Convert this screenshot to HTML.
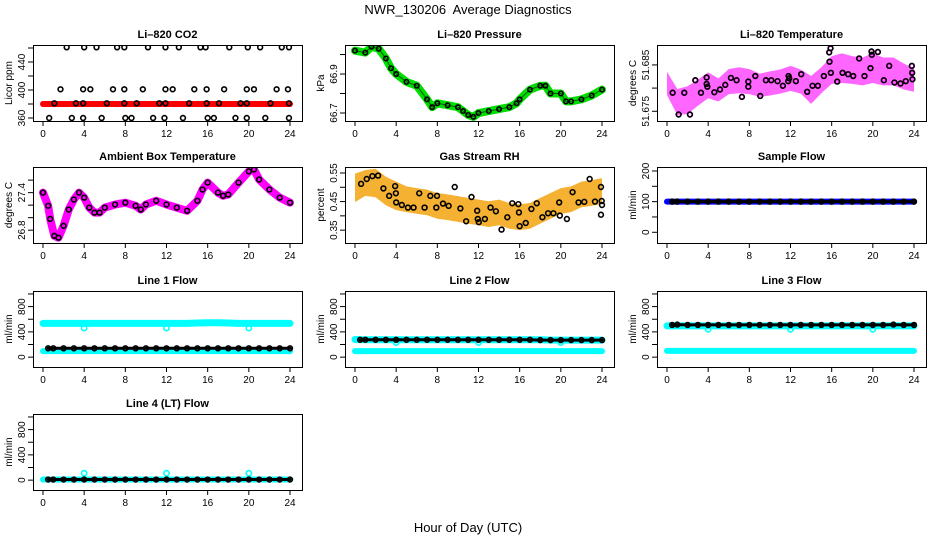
<!DOCTYPE html>
<html><head><meta charset="utf-8"><style>
html,body{margin:0;padding:0;background:#fff;}
svg{display:block;font-family:"Liberation Sans",Arial,sans-serif;}
</style></head><body>
<svg id="chart" width="936" height="540" viewBox="0 0 936 540" xmlns="http://www.w3.org/2000/svg">
<text x="468" y="14" text-anchor="middle" font-size="13">NWR_130206&#160; Average Diagnostics</text>
<text x="468" y="532" text-anchor="middle" font-size="13">Hour of Day (UTC)</text>
</svg>
<script>
const hours25=[0,1,2,3,4,5,6,7,8,9,10,11,12,13,14,15,16,17,18,19,20,21,22,23,24];
const xTicks=[0,4,8,12,16,20,24];
// CO2
const co2Red=[380,380,380,380,380,380,380,380,380,380,380,380,380,380,380,380,380,380,380,380,380,380,380,380,380];
const co2PtH=[2.3,4.0,5.2,7.2,7.9,10.2,11.9,13.2,15.3,15.8,18.1,19.9,21.1,23.2,23.9,1.7,3.9,4.6,6.8,7.9,9.7,11.9,12.6,14.7,15.9,17.6,19.8,20.5,22.7,23.8,1.1,3.2,3.9,6.2,7.9,9.1,11.3,11.9,14.2,15.9,17.1,19.2,19.8,22.1,23.9,0.6,2.8,3.9,5.7,8.0,8.6,10.7,11.8,13.6,16.0,16.6,18.7,19.8,21.6,23.9];
const co2PtV=[461,461,461,461,461,461,461,461,461,461,461,461,461,461,461,401,401,401,401,401,401,401,401,401,401,401,401,401,401,401,381,381,381,381,381,381,381,381,381,381,381,381,381,381,381,360,360,360,360,360,360,360,360,360,360,360,360,360,360,360];
// Pressure
const presH=[0,1,1.6,2.3,3,3.5,4,5,6,7,7.5,8,9,10,10.5,11,11.5,12,13,14,15,15.7,16,17,18,18.5,19,20,20.5,21,22,23,24];
const presV=[67.02,67.01,67.04,67.03,66.98,66.93,66.90,66.86,66.84,66.77,66.73,66.75,66.74,66.73,66.71,66.69,66.68,66.70,66.71,66.72,66.73,66.75,66.77,66.82,66.84,66.84,66.80,66.80,66.76,66.76,66.77,66.79,66.82];
// Li-820 temperature
const ltCenter=[51.681,51.677,51.6774,51.679,51.6806,51.6796,51.6814,51.6817,51.6814,51.6806,51.681,51.6814,51.6821,51.6814,51.6796,51.6817,51.6839,51.6843,51.6839,51.6836,51.6843,51.6836,51.6836,51.6825,51.6817];
const ltSpread=[0.0025,0.0028,0.003,0.0028,0.0028,0.0025,0.0027,0.0028,0.0027,0.0025,0.0026,0.0026,0.0027,0.0026,0.003,0.0028,0.003,0.0032,0.003,0.003,0.0032,0.003,0.003,0.0028,0.0025];
const ltPtH=[0.55,1.13,1.68,2.23,2.75,3.3,3.85,3.85,3.92,4.6,5.15,5.66,6.21,6.76,7.28,7.9,7.9,8.58,9.06,9.61,10.13,10.74,11.26,11.78,11.81,11.88,12.52,13.04,13.62,14.14,14.66,15.24,15.76,15.79,15.89,15.92,16.54,17.06,17.6,18.09,18.67,19.19,19.77,19.87,19.9,20.49,21.07,21.59,22.1,22.69,23.2,23.79,23.82,23.85];
const ltPtV=[51.679,51.6743,51.679,51.6743,51.6817,51.679,51.6823,51.6809,51.6803,51.6791,51.6797,51.6807,51.6822,51.6817,51.6781,51.6814,51.6803,51.6826,51.6783,51.6817,51.6817,51.6815,51.6805,51.6815,51.6826,51.6821,51.6815,51.683,51.6792,51.6805,51.6805,51.6826,51.6877,51.6857,51.6886,51.6833,51.6814,51.6833,51.683,51.6826,51.6864,51.6826,51.6843,51.6879,51.6872,51.6878,51.6817,51.6848,51.6812,51.681,51.6815,51.6848,51.6833,51.6819];
// Ambient
const ambH=[0,0.5,0.7,1.1,1.5,2,2.5,3,3.5,4,4.5,5,5.5,6,7,8,9,9.5,10,11,12,13,14,15,15.5,16,17,17.5,18,19,20,20.5,21,22,23,24];
const ambV=[27.4,27.19,26.98,26.71,26.68,26.87,27.13,27.29,27.4,27.32,27.16,27.08,27.08,27.16,27.21,27.24,27.19,27.13,27.21,27.27,27.21,27.16,27.11,27.27,27.45,27.56,27.4,27.35,27.37,27.56,27.74,27.77,27.61,27.45,27.32,27.24];
// RH
const rhCenter=[0.498,0.515,0.515,0.487,0.47,0.458,0.452,0.447,0.435,0.43,0.424,0.418,0.412,0.406,0.412,0.4,0.395,0.4,0.418,0.435,0.452,0.458,0.475,0.48,0.487];
const rhSpread=[0.05,0.045,0.05,0.05,0.05,0.045,0.045,0.045,0.045,0.045,0.045,0.045,0.045,0.045,0.045,0.045,0.045,0.045,0.045,0.045,0.045,0.045,0.045,0.045,0.045];
const rhPtH=[0.59,1.14,1.69,2.24,2.76,3.32,3.9,3.97,4.0,4.55,5.14,5.69,6.24,6.76,7.32,7.9,7.97,8.55,9.1,9.69,10.24,10.8,11.32,11.87,11.93,12.03,12.62,13.17,13.69,14.24,14.8,15.28,15.87,15.93,16.0,16.59,17.14,17.66,18.21,18.76,19.28,19.84,19.9,20.59,21.14,21.72,22.28,22.8,23.32,23.9,23.97,24.0,23.9];
const rhPtV=[0.512,0.529,0.539,0.541,0.496,0.47,0.504,0.479,0.447,0.438,0.429,0.429,0.479,0.429,0.47,0.429,0.47,0.443,0.435,0.501,0.426,0.381,0.466,0.418,0.389,0.378,0.389,0.429,0.416,0.352,0.395,0.444,0.441,0.412,0.364,0.375,0.424,0.444,0.395,0.409,0.409,0.447,0.401,0.389,0.483,0.447,0.449,0.529,0.45,0.501,0.452,0.438,0.404];
// Flows (hourly)
const sampleBlue=[100,100,100,100,100,100,100,100,100,100,100,100,100,100,100,100,100,100,100,100,100,100,100,100,100];
const sampleBlack=[100,100,100,100,100,100,100,100,100,100,100,100,100,100,100,100,100,100,100,100,100,100,100,100,100];
const l1CyanHi=[535,535,535,535,535,535,535,535,535,535,535,535,535,535,535,540,545,545,540,535,535,535,535,535,535];
const l1CyanLo=[95,95,95,95,95,95,95,95,95,95,95,95,95,95,95,95,95,95,95,95,95,95,95,95,95];
const l1Black=[140,140,140,140,140,140,140,140,140,140,140,140,140,140,140,140,140,140,140,140,140,140,140,140,140];
const l2CyanHi=[280,275,275,275,275,275,275,275,275,275,275,275,275,275,275,275,275,275,275,270,270,270,270,270,270];
const l2CyanLo=[95,95,95,95,95,95,95,95,95,95,95,95,95,95,95,95,95,95,95,95,95,95,95,95,95];
const l2Black=[275,275,275,275,275,275,275,275,275,275,275,275,275,275,275,275,275,275,270,270,270,270,270,270,270];
const l3CyanHi=[495,495,495,495,495,495,495,495,495,495,495,495,495,495,495,495,495,495,495,495,495,495,495,495,495];
const l3CyanLo=[100,100,100,100,100,100,100,100,100,100,100,100,100,100,100,100,100,100,100,100,100,100,100,100,100];
const l3Black=[510,515,510,510,510,510,510,510,510,510,510,510,510,510,510,510,510,510,510,510,510,510,515,510,510];
const l4Cyan=[10,10,10,10,10,10,10,10,10,10,10,10,10,10,10,10,10,10,10,10,10,10,10,10,10];
const l4Black=[10,10,10,10,10,10,10,10,10,10,10,10,10,10,10,10,10,10,10,10,10,10,10,10,10];
const outlierH=[4,12,20];
const l1Out=[460,460,460];
const l2Out=[230,230,230];
const l3Out=[440,440,440];
const l4Out=[110,110,110];

const svg=document.getElementById('chart');
const NS='http://www.w3.org/2000/svg';
function mk(tag,attrs,parent){const e=document.createElementNS(NS,tag);for(const k in attrs)e.setAttribute(k,attrs[k]);(parent||svg).appendChild(e);return e;}
const tops=[45,167,291,414];
function panel(col,row,lo,hi,ticks,labels,title,ylab,name){
  const L=33+312*col,T=tops[row],W=269,Hh=76;
  const g=mk('g',{});
  
  
  const X=h=>L+10+h*247/24;
  const Y=v=>T+Hh-(v-lo)/(hi-lo)*Hh;
  const t=mk('text',{x:L+W/2,y:T-7,'text-anchor':'middle','font-size':11,'font-weight':'bold'},g);
  t.textContent=title;
  
  
  const yl=mk('text',{x:0,y:0,'text-anchor':'middle','font-size':10,transform:`translate(${L-21},${T+Hh/2}) rotate(-90)`},g);
  yl.textContent=ylab;
  
  
  const ax=mk('g',{stroke:'#000','stroke-width':1},g);
  
  
  xTicks.forEach(h=>{mk('line',{x1:X(h),x2:X(h),y1:T+Hh,y2:T+Hh+5},ax);
    const tl=mk('text',{x:X(h),y:T+Hh+16,'text-anchor':'middle','font-size':10,stroke:'none'},ax);tl.textContent=h;
    
    });
  ticks.forEach(v=>{mk('line',{x1:L-5,x2:L,y1:Y(v),y2:Y(v)},ax);});
  labels.forEach(v=>{const tl=mk('text',{x:0,y:0,'text-anchor':'middle','font-size':10,stroke:'none',transform:`translate(${L-8},${Y(v)}) rotate(-90)`},ax);tl.textContent=v;
    
    });
  const body=mk('g',{},g);
  const clip='clip'+name;
  const cp=mk('clipPath',{id:clip},g);mk('rect',{x:L,y:T,width:W,height:Hh},cp);
  body.setAttribute('clip-path',`url(#${clip})`);
  mk('rect',{x:L+0.5,y:T+0.5,width:W,height:Hh,fill:'none',stroke:'#000'},g);
  return {X,Y,body};
}
function line(p,hs,vs,color,w,nm){
  const pl=mk('polyline',{points:hs.map((h,i)=>p.X(h)+','+p.Y(vs[i])).join(' '),fill:'none',stroke:color,'stroke-width':w,'stroke-linecap':'round','stroke-linejoin':'round'},p.body);
  
  
}
function band(p,hs,c,s,color,nm,op){
  const up=hs.map((h,i)=>p.X(h)+','+p.Y(c[i]+s[i]));
  const dn=hs.map((h,i)=>p.X(h)+','+p.Y(c[i]-s[i])).reverse();
  const pg=mk('polygon',{points:up.concat(dn).join(' '),fill:color,opacity:op},p.body);
  
  
}
function pts(p,hs,vs,color,nm,r){
  hs.forEach((h,i)=>{const c=mk('circle',{cx:p.X(h),cy:p.Y(vs[i]),r:r||2.4,fill:'none',stroke:color,'stroke-width':1.6},p.body);
    
    });
}
// Panel 1 CO2
let p=panel(0,0,355.7,464.3,[360,380,400,420,440,460],[360,400,440],'Li\u2013820 CO2','Licor ppm','co2');
line(p,hours25,co2Red,'#ff0000',6,'co2-red-band');
pts(p,co2PtH,co2PtV,'#000','co2-point');
// Panel 2 Pressure
p=panel(1,0,66.659,67.049,[66.7,66.8,66.9,67.0],[66.7,66.9],'Li\u2013820 Pressure','kPa','pressure');
line(p,presH,presV,'#00dd00',8,'pressure-green-band');
line(p,presH,presV,'#0a5a0a',1,'pressure-dots');
pts(p,presH,presV,'#000','pressure-point',2.2);
// Panel 3 Li temp
p=panel(2,0,51.6729,51.6893,[51.675,51.68,51.685],[51.675,51.685],'Li\u2013820 Temperature','degrees C','li-temp');
band(p,hours25,ltCenter,ltSpread,'#ff33ff','li-temp-magenta-cloud',0.75);
pts(p,ltPtH,ltPtV,'#ff00ff','li-temp-magenta-point',2.2);
pts(p,ltPtH,ltPtV,'#000','li-temp-point',2.4);
// Panel 4 Ambient
p=panel(0,1,26.595,27.81,[26.8,27.0,27.2,27.4,27.6],[26.8,27.4],'Ambient Box Temperature','degrees C','ambient');
line(p,ambH,ambV,'#ff00ff',8,'ambient-magenta-band');
pts(p,ambH,ambV,'#000','ambient-point',2.4);
// Panel 5 RH
p=panel(1,1,0.305,0.571,[0.35,0.4,0.45,0.5,0.55],[0.35,0.45,0.55],'Gas Stream RH','percent','rh');
band(p,hours25,rhCenter,rhSpread,'#f4a81c','rh-orange-cloud',0.9);
pts(p,rhPtH,rhPtV,'#000','rh-point',2.4);
// Panel 6 Sample flow
p=panel(2,1,-35,213,[0,50,100,150,200],[0,100,200],'Sample Flow','ml/min','sample-flow');
line(p,hours25,sampleBlue,'#0000ff',6,'sample-blue-band');
line(p,hours25.map(h=>h===0?0.5:h),sampleBlack,'#000',3,'sample-black-chain');
pts(p,hours25.map(h=>h===0?0.5:h),sampleBlack,'#000','sample-point',2.4);
const fTicks=[0,200,400,600,800,1000],fLab=[0,400,800];
// Line 1
p=panel(0,2,-156,1047,fTicks,fLab,'Line 1 Flow','ml/min','line1');
line(p,hours25,l1CyanHi,'#00ffff',7,'line1-cyan-high');
line(p,hours25,l1CyanLo,'#00ffff',6,'line1-cyan-low');
pts(p,outlierH,l1Out,'#00ffff','line1-outlier',2.6);
line(p,hours25.map(h=>h===0?0.5:h),l1Black,'#000',3,'line1-black-chain');
pts(p,hours25.map(h=>h===0?0.5:h),l1Black,'#000','line1-point',2.4);
// Line 2
p=panel(1,2,-156,1047,fTicks,fLab,'Line 2 Flow','ml/min','line2');
line(p,hours25,l2CyanHi,'#00ffff',7,'line2-cyan-high');
line(p,hours25,l2CyanLo,'#00ffff',6,'line2-cyan-low');
pts(p,outlierH,l2Out,'#00ffff','line2-outlier',2.6);
line(p,hours25.map(h=>h===0?0.5:h),l2Black,'#000',3,'line2-black-chain');
pts(p,hours25.map(h=>h===0?0.5:h),l2Black,'#000','line2-point',2.4);
// Line 3
p=panel(2,2,-156,1047,fTicks,fLab,'Line 3 Flow','ml/min','line3');
line(p,hours25,l3CyanHi,'#00ffff',7,'line3-cyan-high');
line(p,hours25,l3CyanLo,'#00ffff',6,'line3-cyan-low');
pts(p,outlierH,l3Out,'#00ffff','line3-outlier',2.6);
line(p,hours25.map(h=>h===0?0.5:h),l3Black,'#000',3,'line3-black-chain');
pts(p,hours25.map(h=>h===0?0.5:h),l3Black,'#000','line3-point',2.4);
// Line 4
p=panel(0,3,-156,1047,fTicks,fLab,'Line 4 (LT) Flow','ml/min','line4');
line(p,hours25,l4Cyan,'#00ffff',6,'line4-cyan');
pts(p,outlierH,l4Out,'#00ffff','line4-outlier',2.6);
line(p,hours25.map(h=>h===0?0.5:h),l4Black,'#000',3,'line4-black-chain');
pts(p,hours25.map(h=>h===0?0.5:h),l4Black,'#000','line4-point',2.4);
</script>
</body></html>
